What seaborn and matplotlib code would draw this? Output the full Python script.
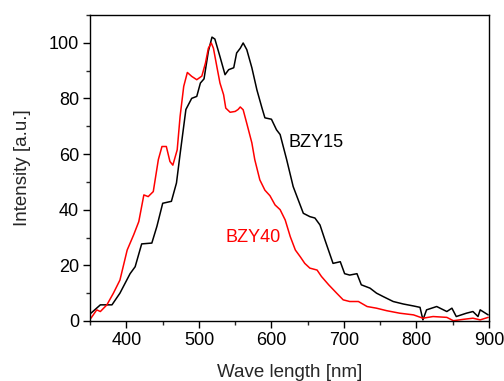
import numpy as np
import pandas as pd
import matplotlib
matplotlib.use("Agg")
import matplotlib.pyplot as plt
from matplotlib.ticker import MultipleLocator
import seaborn as sns

# BZY15 spectrum (black)
bzy15_nm = [351, 364, 380, 391, 405, 412, 421, 435, 442, 450, 462, 469, 474, 482, 490, 497,
            502, 507, 513, 518, 522, 529, 536, 541, 548, 552, 557, 561, 566, 573, 580, 587,
            591, 600, 607, 612, 621, 630, 644, 653, 660, 667, 674, 685, 695, 701, 708, 718,
            724, 736, 745, 754, 768, 782, 796, 805, 809, 814, 828, 842, 849, 855, 869, 878,
            885, 888, 899]
bzy15_int = [2.8, 5.8, 5.8, 10, 17, 19.5, 27.7, 28, 34, 42.3, 43, 49.6, 60, 76, 80, 80.7,
             85.5, 87, 96.9, 102, 101.3, 95, 88.5, 90.3, 91, 96.3, 98, 99.9, 97.5, 91, 83, 76.5,
             73, 72.5, 68.7, 67, 58, 48.3, 38.7, 37.5, 37, 34.5, 29, 20.7, 21.3, 17, 16.5, 17,
             13, 11.8, 10, 8.8, 7, 6.1, 5.4, 4.9, 0.4, 4, 5.2, 3.4, 4.6, 1.6, 2.8, 3.4,
             1.6, 4, 2.2]

# BZY40 spectrum (red)
bzy40_nm = [351, 359, 364, 373, 382, 391, 401, 410, 417, 424, 430, 437, 444, 449, 455, 460,
            464, 470, 474, 479, 484, 490, 497, 504, 509, 513, 517, 520, 525, 529, 534, 537,
            543, 550, 554, 557, 561, 566, 573, 577, 584, 591, 598, 605, 612, 619, 626, 633,
            640, 646, 653, 663, 669, 679, 690, 699, 708, 720, 732, 745, 759, 777, 796, 809,
            823, 842, 851, 865, 878, 888, 899]
bzy40_int = [1, 4, 3.4, 5.8, 10, 14.7, 25.5, 31, 35.7, 45.3, 44.7, 46.5, 58, 62.7, 62.7, 57.3,
             56, 61.5, 73.5, 84.3, 89.3, 87.9, 86.7, 88, 92.7, 98, 99.9, 98, 91, 85.5, 81.3, 76.5,
             75, 75.3, 76, 76.9, 75.9, 71, 64, 58, 50.7, 47, 45, 41.7, 40, 36.3, 30.3, 25.5,
             23, 20.7, 19, 18.3, 16, 13, 10, 7.6, 7, 7, 5.2, 4.6, 3.7, 2.8, 2.2, 1,
             1.6, 1.3, 0.1, 0.6, 1, 0.4, 1.3]

df15 = pd.DataFrame({"nm": bzy15_nm, "intensity": bzy15_int})
df40 = pd.DataFrame({"nm": bzy40_nm, "intensity": bzy40_int})

sns.set_style("ticks")
plt.rcParams['font.family'] = ['Liberation Sans', 'DejaVu Sans']

fig = plt.figure(figsize=(5.04, 3.81), dpi=100)
ax = fig.add_axes([0.179, 0.1575, 0.791, 0.8035])

sns.lineplot(data=df15, x="nm", y="intensity", color="black", linewidth=1.1, ax=ax)
sns.lineplot(data=df40, x="nm", y="intensity", color="#ff0000", linewidth=1.1, ax=ax)

ax.text(623, 64, "BZY15", color="black", fontsize=13, va="center")
ax.text(536, 30, "BZY40", color="#ff0000", fontsize=13, va="center")

ax.set_xlim(350, 900)
ax.set_ylim(0, 110)
ax.xaxis.set_major_locator(MultipleLocator(100))
ax.xaxis.set_minor_locator(MultipleLocator(50))
ax.yaxis.set_major_locator(MultipleLocator(20))
ax.yaxis.set_minor_locator(MultipleLocator(10))
ax.tick_params(which="major", direction="out", length=5, width=1, labelsize=13,
               colors="black", pad=3)
ax.tick_params(which="minor", direction="out", length=3, width=1)
for s in ax.spines.values():
    s.set_linewidth(1)
    s.set_color("black")

# the reference clips this label at the bottom edge; keep it just inside
ax.set_xlabel("Wave length [nm]", fontsize=13.5, labelpad=11)
ax.set_ylabel("Intensity [a.u.]", fontsize=13.5, labelpad=13)

fig.savefig("out.png", dpi=100)
